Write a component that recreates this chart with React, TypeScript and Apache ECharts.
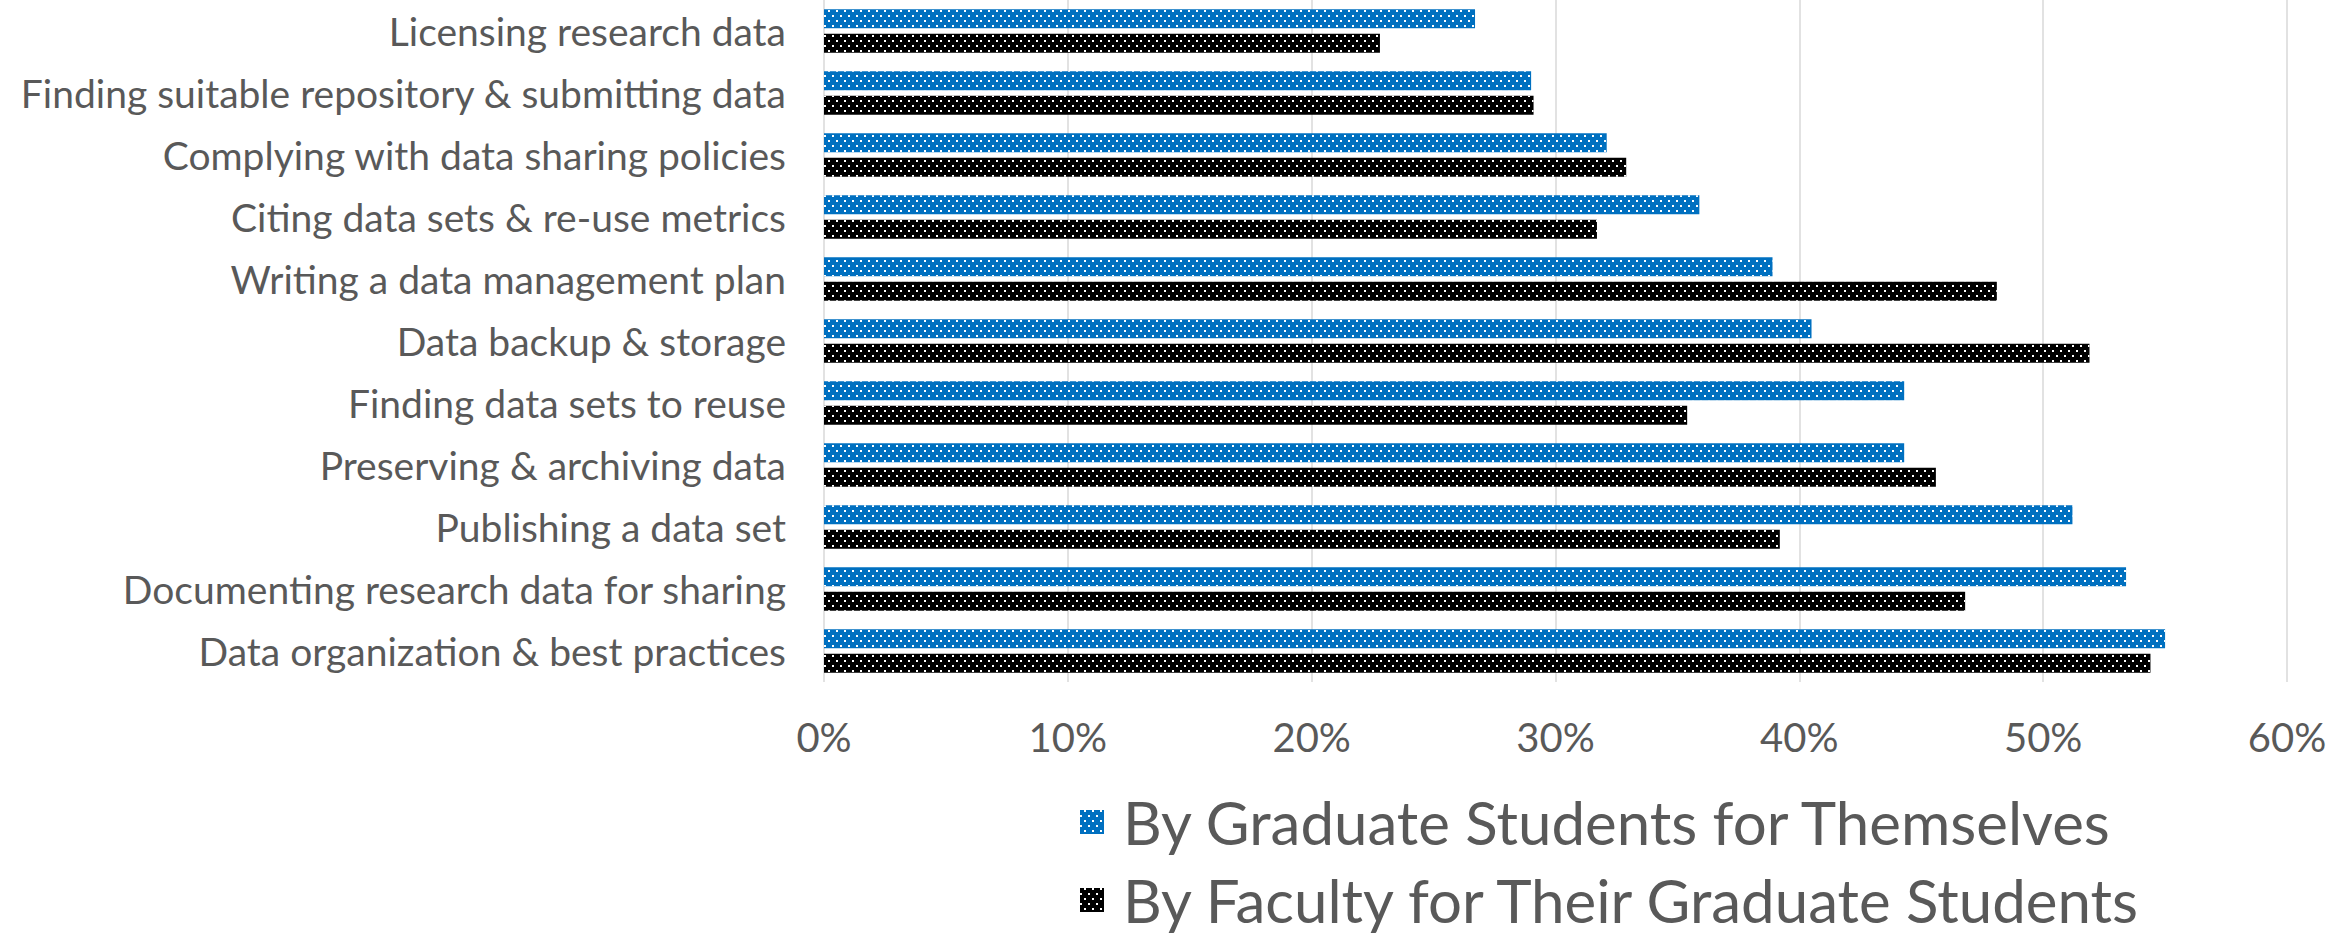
import React, { useEffect, useRef } from "react";
import * as echarts from "echarts";

// Support needs by topic, top to bottom
const categories = [
  "Licensing research data",
  "Finding suitable repository & submitting data",
  "Complying with data sharing policies",
  "Citing data sets & re-use metrics",
  "Writing a data management plan",
  "Data backup & storage",
  "Finding data sets to reuse",
  "Preserving & archiving data",
  "Publishing a data set",
  "Documenting research data for sharing",
  "Data organization & best practices",
];

// Percent of respondents
const gradStudents = [26.7, 29.0, 32.1, 35.9, 38.9, 40.5, 44.3, 44.3, 51.2, 53.4, 55.0];
const faculty = [22.8, 29.1, 32.9, 31.7, 48.1, 51.9, 35.4, 45.6, 39.2, 46.8, 54.4];

const seriesNames = [
  "By Graduate Students for Themselves",
  "By Faculty for Their Graduate Students",
];

const xTicks = { min: 0, max: 60, interval: 10 };

const FONT = "Lato, 'Open Sans', sans-serif";
const TEXT_COLOR = "#595959";

// White dotted fill, staggered rows
const dotDecal = {
  symbol: "rect",
  symbolSize: 1,
  color: "#ffffff",
  dashArrayX: [
    [2, 5.5],
    [0, 3.75, 2, 1.75],
  ],
  dashArrayY: [2, 3],
  rotation: 0,
};

export default function App() {
  const ref = useRef<HTMLDivElement>(null);

  useEffect(() => {
    if (!ref.current) return;
    const chart = echarts.init(ref.current, undefined, { renderer: "svg" });
    chart.setOption({
      animation: false,
      backgroundColor: "#ffffff",
      grid: { left: 824, right: 64, top: -3, bottom: 258, containLabel: false },
      legend: {
        orient: "vertical",
        left: 1080,
        top: 792,
        padding: 0,
        itemWidth: 24,
        itemHeight: 24,
        itemGap: 18,
        icon: "rect",
        textStyle: {
          fontFamily: FONT,
          fontSize: 60,
          lineHeight: 60,
          color: TEXT_COLOR,
          padding: [0, 0, 0, 14],
        },
        data: seriesNames,
      },
      xAxis: {
        type: "value",
        min: xTicks.min,
        max: xTicks.max,
        interval: xTicks.interval,
        axisLine: { show: false },
        axisTick: { show: false },
        splitLine: { lineStyle: { color: "#d9d9d9", width: 1.5 } },
        axisLabel: {
          formatter: "{value}%",
          fontFamily: FONT,
          fontSize: 40,
          color: TEXT_COLOR,
          margin: 35,
        },
      },
      yAxis: {
        type: "category",
        data: categories,
        inverse: true,
        axisLine: { show: false },
        axisTick: { show: false },
        splitLine: { show: false },
        axisLabel: {
          fontFamily: FONT,
          fontSize: 39,
          color: TEXT_COLOR,
          margin: 38,
        },
      },
      series: [
        {
          name: seriesNames[0],
          type: "bar",
          data: gradStudents,
          barGap: "30%",
          barCategoryGap: "30%",
          itemStyle: { color: "#0070c0", decal: dotDecal },
        },
        {
          name: seriesNames[1],
          type: "bar",
          data: faculty,
          itemStyle: { color: "#000000", decal: dotDecal },
        },
      ],
    });
    return () => chart.dispose();
  }, []);

  return (
    <div
      ref={ref}
      style={{ position: "absolute", left: 0, top: 0, width: 2351, height: 940 }}
    />
  );
}
